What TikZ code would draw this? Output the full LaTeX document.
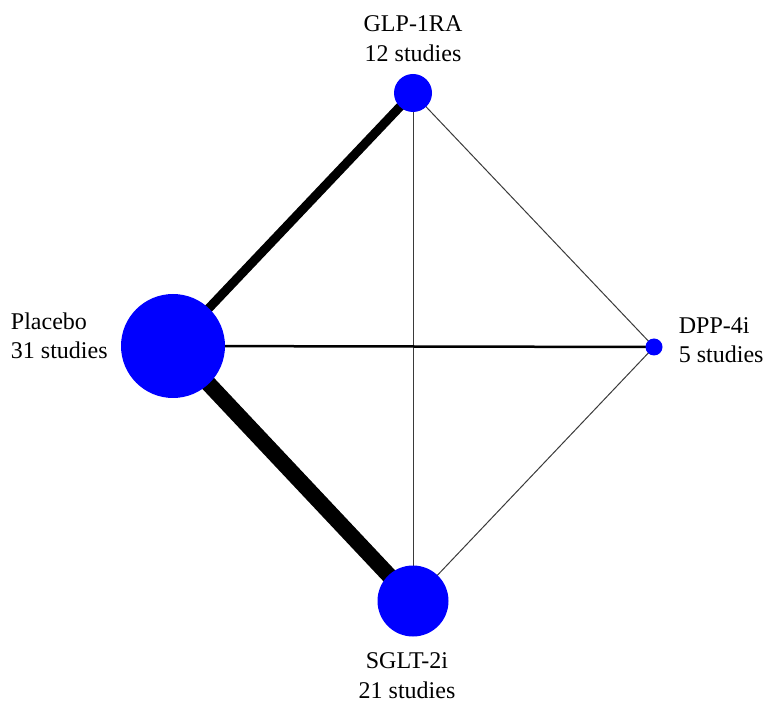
\documentclass[tikz,border=0pt]{standalone}
\usepackage{fontspec}
\setmainfont{Liberation Serif}
\usetikzlibrary{positioning, backgrounds}
\definecolor{cblue}{HTML}{0000FF}
\definecolor{cthin}{HTML}{3A3A3A}

\begin{document}
\begin{tikzpicture}[
  x=1pt, y=-1pt,
  font={\fontsize{24}{29.5}\selectfont},
  arm/.style={circle, fill=cblue, draw=none, inner sep=0pt},
  lab/.style={text=black, inner sep=0pt},
  link/.style={draw=black, line cap=butt},
  thin link/.style={draw=cthin, line width=1pt}
]
\useasboundingbox (0,0) rectangle (764,703);
\node[arm, minimum size=104pt] (placebo) at (173,346) {};
\node[arm, minimum size=38pt]  (glp)     at (413,93)  {};
\node[arm, minimum size=17pt]  (dpp)     at (654,347) {};
\node[arm, minimum size=71pt]  (sglt)    at (413,601) {};
\node[lab, align=center, above=12pt of glp] (glplab) {GLP-1RA\\12 studies};
\node[lab, align=left, left=13pt of placebo, yshift=10pt] (placebolab) {Placebo\\31 studies};
\node[lab, align=left, right=16pt of dpp, yshift=7pt] (dpplab) {DPP-4i\\5 studies};
\node[lab, align=center, below=16pt of sglt, xshift=-6pt] (sgltlab) {SGLT-2i\\21 studies};
\begin{scope}[on background layer]
  \draw[thin link] (glp.center) -- (sglt.center);
  \draw[thin link] (glp.center) -- (dpp.center);
  \draw[thin link] (sglt.center) -- (dpp.center);
  \draw[link, line width=2.5pt] (placebo.center) -- (dpp.center);
  \draw[link, line width=9pt] (placebo.center) -- (glp.center);
  \draw[link, line width=16pt] (placebo.center) -- (sglt.center);
\end{scope}
\end{tikzpicture}
\end{document}
